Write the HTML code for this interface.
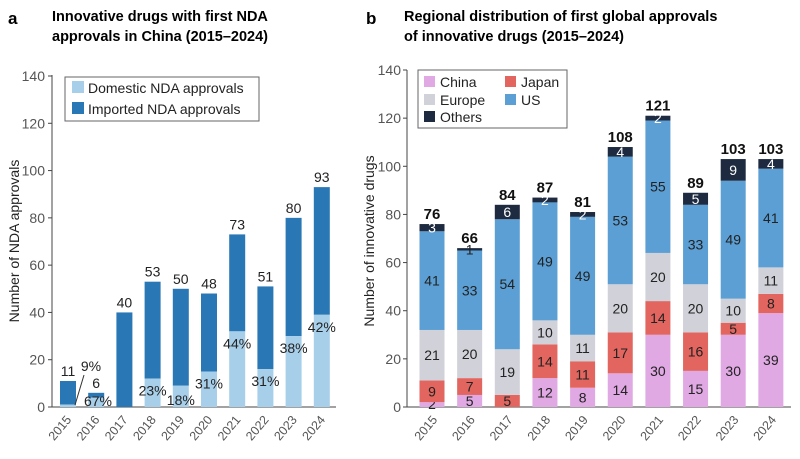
<!DOCTYPE html>
<html><head><meta charset="utf-8"><style>
body{margin:0;background:#fff;}
svg{display:block;font-family:"Liberation Sans",sans-serif;}
</style></head><body>
<svg id="c" width="800" height="459">
<text x="8" y="24" font-size="17" font-weight="bold">a</text>
<text x="52" y="21" font-size="14.5" font-weight="bold">Innovative drugs with first NDA</text>
<text x="52" y="41" font-size="14.5" font-weight="bold">approvals in China (2015–2024)</text>
<text x="366" y="24" font-size="17" font-weight="bold">b</text>
<text x="404" y="21" font-size="14.5" font-weight="bold">Regional distribution of first global approvals</text>
<text x="404" y="41" font-size="14.5" font-weight="bold">of innovative drugs (2015–2024)</text>
<g id="ga"></g><g id="gb"></g>
</svg>
<script>
const years=["2015","2016","2017","2018","2019","2020","2021","2022","2023","2024"];
const yTicks=[0,20,40,60,80,100,120,140];
const domestic=[1,4,0,12,9,15,32,16,30,39];
const totalA=[11,6,40,53,50,48,73,51,80,93];
const pctLabels=["9%","67%","","23%","18%","31%","44%","31%","38%","42%"];
const china=[2,5,0,12,8,14,30,15,30,39];
const japan=[9,7,5,14,11,17,14,16,5,8];
const europe=[21,20,19,10,11,20,20,20,10,11];
const us=[41,33,54,49,49,53,55,33,49,41];
const others=[3,1,6,2,2,4,2,5,9,4];
const NS="http://www.w3.org/2000/svg";
function mk(p,t,a,txt){const e=document.createElementNS(NS,t);for(const k in a)e.setAttribute(k,a[k]);if(txt!==undefined)e.textContent=txt;p.appendChild(e);return e;}
// Panel A
const ga=document.getElementById('ga');
const ayS=v=>407-v*(331/140), axS=i=>68+i*28.2;
mk(ga,'line',{x1:52,y1:407,x2:336,y2:407,stroke:'#444','stroke-width':1});
mk(ga,'line',{x1:52,y1:75,x2:52,y2:407,stroke:'#444','stroke-width':1});
yTicks.forEach(t=>{mk(ga,'line',{x1:48,x2:52,y1:ayS(t),y2:ayS(t),stroke:'#444'});
const e=mk(ga,'text',{x:45,y:ayS(t)+5,'font-size':14,'text-anchor':'end',fill:'#555'},t);
});
const yl=mk(ga,'text',{x:19,y:241,'font-size':14,'text-anchor':'middle',transform:'rotate(-90 19 241)',fill:'#222'},'Number of NDA approvals');

years.forEach((y,i)=>{const x=axS(i),w=16;
const r1=mk(ga,'rect',{x:x-w/2,y:ayS(totalA[i]),width:w,height:ayS(domestic[i])-ayS(totalA[i]),fill:'#2a77b5'});

const r2=mk(ga,'rect',{x:x-w/2,y:ayS(domestic[i]),width:w,height:407-ayS(domestic[i]),fill:'#a8cfea'});

const tl=mk(ga,'text',{x:x,y:ayS(totalA[i])-5,'font-size':14,'text-anchor':'middle',fill:'#222'},totalA[i]);

const xl=mk(ga,'text',{x:x+4,y:420,'font-size':12.5,'text-anchor':'end',fill:'#555',transform:`rotate(-50 ${x+4} 420)`},y);

if(pctLabels[i]&&i>1){
const p=mk(ga,'text',{x:x,y:i==4?405:(i==3||i==5||i==7?ayS(Math.max(domestic[i],12))+17:ayS(domestic[i])+17),'font-size':14,'text-anchor':'middle',fill:'#222'},pctLabels[i]);
}});
let p=mk(ga,'text',{x:91,y:371,'font-size':14,'text-anchor':'middle',fill:'#222'},pctLabels[0]);
p=mk(ga,'text',{x:98,y:406,'font-size':14,'text-anchor':'middle',fill:'#222'},pctLabels[1]);
mk(ga,'line',{x1:84,y1:375,x2:75,y2:405,stroke:'#333'});
const la=mk(ga,'g',{});
mk(la,'rect',{x:65,y:77,width:194,height:44,fill:'#fff',stroke:'#666'});
mk(la,'rect',{x:72,y:81,width:12,height:12,fill:'#a8cfea'});
mk(la,'text',{x:88,y:93,'font-size':14,fill:'#222'},'Domestic NDA approvals');
mk(la,'rect',{x:72,y:102,width:12,height:12,fill:'#2a77b5'});
mk(la,'text',{x:88,y:114,'font-size':14,fill:'#222'},'Imported NDA approvals');
// Panel B
const gb=document.getElementById('gb');
const byS=v=>407-v*(337/140), bxS=i=>432+i*37.65;
mk(gb,'line',{x1:407,y1:407,x2:791,y2:407,stroke:'#444'});
mk(gb,'line',{x1:407,y1:70,x2:407,y2:407,stroke:'#444'});
yTicks.forEach(t=>{mk(gb,'line',{x1:403,x2:407,y1:byS(t),y2:byS(t),stroke:'#444'});
const e=mk(gb,'text',{x:401,y:byS(t)+5,'font-size':14,'text-anchor':'end',fill:'#555'},t);
});
const yl2=mk(gb,'text',{x:374,y:241,'font-size':14,'text-anchor':'middle',transform:'rotate(-90 374 241)',fill:'#222'},'Number of innovative drugs');

const series=[["china",china,"#e0a9e3","#222"],["japan",japan,"#e2665f","#222"],["europe",europe,"#d0d1d9","#222"],["us",us,"#5b9fd4","#222"],["others",others,"#1d2a3f","#fff"]];
years.forEach((y,i)=>{const x=bxS(i),w=25;let acc=0;
series.forEach(([n,arr,col,tc])=>{const v=arr[i];if(!v)return;
const r=mk(gb,'rect',{x:x-w/2,y:byS(acc+v),width:w,height:byS(acc)-byS(acc+v),fill:col});

const ty=Math.min(byS(acc+v/2)+5,409);
const t=mk(gb,'text',{x:x,y:ty,'font-size':14,'text-anchor':'middle',fill:(n==='others'&&v<2)?'#222':tc},v);

acc+=v;});
const tl=mk(gb,'text',{x:x,y:byS(acc)-5,'font-size':15,'font-weight':'bold','text-anchor':'middle',fill:'#111'},acc);

const xl=mk(gb,'text',{x:x+6,y:420,'font-size':12.5,'text-anchor':'end',fill:'#555',transform:`rotate(-50 ${x+6} 420)`},y);
});
const lb=mk(gb,'g',{});
mk(lb,'rect',{x:418,y:70,width:149,height:58,fill:'#fff',stroke:'#666'});
[["China","#e0a9e3",424,76],["Japan","#e2665f",505,76],["Europe","#d0d1d9",424,94],["US","#5b9fd4",505,94],["Others","#1d2a3f",424,111]].forEach(([n,c,x,y])=>{
mk(lb,'rect',{x:x,y:y,width:11,height:11,fill:c});mk(lb,'text',{x:x+16,y:y+11,'font-size':14,fill:'#222'},n);});
</script>
</body></html>
